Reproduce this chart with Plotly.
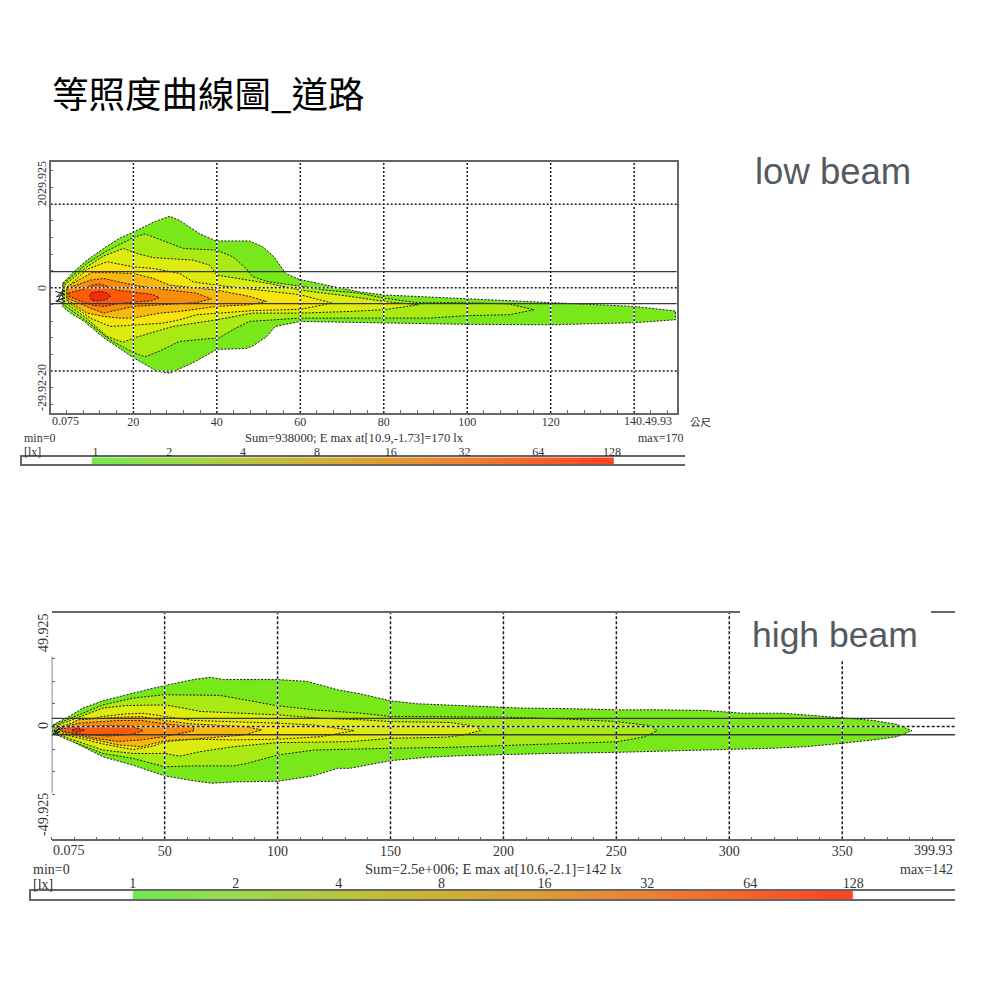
# isolux contour charts, low beam and high beam
import plotly.graph_objects as go

TITLE = "等照度曲線圖_道路"

level_colors = ["#78e81a", "#a8ea12", "#dcec10", "#f6e40c", "#f8b80e", "#fa8c0a", "#ff5a08", "#f42c08"]

legend_levels = ["1", "2", "4", "8", "16", "32", "64", "128"]
legend_pos = [0, 1, 2, 3, 4, 5, 6, 7]
legend_z = [0, 1, 2, 3, 4, 5, 6, 7]
legend_colors = ["#74e84c", "#98dc48", "#b8c63c", "#cfb034", "#e09a30", "#ee8030", "#f86028", "#ff4422"]
low_legend_edges = [-0.05, 0.5, 1.5, 2.5, 3.5, 4.5, 5.5, 6.5, 7.03]
high_legend_edges = [0, 0.5, 1.5, 2.5, 3.5, 4.5, 5.5, 6.5, 7]

# low beam contours, clockwise from the left tip (metres)
low_1_x = [3, 5.7, 8.9, 12.9, 16.8, 20, 24.8, 28.7, 31.1, 35.9, 39.8, 47.8, 51, 53.7, 56.5, 59.7, 64.4, 68.4, 74, 80, 100, 120, 140, 149.9, 149.9, 140, 128, 120, 100, 80, 74, 60, 54, 52, 48.6, 47, 40, 34.3, 28.7, 25.6, 20, 12.9, 8.1, 4.9, 3]
low_1_y = [1, 3.8, 6.6, 9.4, 11.9, 13.3, 15.7, 17.1, 16.1, 12.9, 11.2, 11.2, 9.8, 7.4, 3.4, 2, 1, 0.1, -1, -1.75, -2.7, -3.7, -4.5, -5.6, -7.7, -8.4, -8.7, -8.9, -8.8, -8.5, -8.3, -8.1, -9.3, -11.7, -14, -14.6, -14.8, -18, -20.5, -20, -16.8, -12, -8, -6.1, -4.5]
low_2_x = [3.3, 8.9, 13.7, 20, 22.8, 27, 32, 40, 43.8, 47, 48.6, 52.5, 60, 66, 74, 80, 88, 100, 110, 116, 110, 100, 91, 74, 60, 47.8, 44.6, 40.6, 31, 26.3, 22.8, 20, 14.4, 8.9, 3.3]
low_2_y = [1, 5.8, 8.8, 12, 12.9, 11.3, 9.4, 9, 7.4, 4.6, 2.6, 1.4, 0.4, -0.6, -1.3, -2.5, -3.6, -3.6, -3.9, -5.3, -6.5, -6.7, -7.3, -7.3, -7.3, -8.1, -9.7, -12, -12.9, -15.2, -16.6, -15.6, -12.5, -8.1, -4.1]
low_3_x = [3.5, 8.9, 12.9, 17.6, 20.8, 24.8, 34.3, 38.3, 40, 44.6, 52.5, 60, 72, 80, 88.3, 80, 72, 60, 48.6, 40, 34.3, 29.5, 20, 17.6, 13.7, 8.9, 3.5]
low_3_y = [0.6, 5, 7.6, 9.4, 8.2, 7.2, 6.6, 5.4, 3, 2.2, 1, -0.6, -2.1, -3.3, -4.1, -5.3, -5.7, -6.1, -6.1, -7.7, -8.5, -9.3, -12.1, -13.1, -11.7, -7.4, -3.5]
low_4_x = [4.1, 8.9, 13.7, 20, 24.8, 31.1, 34.3, 40, 60, 67.6, 60, 48.6, 40.6, 35, 31.1, 27.1, 20, 14.4, 9.7, 4.1]
low_4_y = [0, 4.4, 6.2, 5, 4.6, 3.4, 1.4, 0.6, -1.7, -3.7, -5.2, -5.5, -6.1, -6.5, -7.7, -8.5, -9, -9.3, -7.3, -3.3]
low_5_x = [4.1, 10, 14.4, 20, 24.8, 28.7, 40, 47.8, 51.9, 47.8, 40, 31.1, 26.3, 20, 16.8, 12.9, 8.9, 4.1]
low_5_y = [0.2, 3.6, 3.6, 3.4, 2.2, 0.6, -0.6, -2.1, -3.3, -4.1, -4.5, -5.7, -6.1, -7.3, -7.3, -6.9, -6.1, -2.9]
low_6_x = [4.1, 9.7, 12.9, 16.8, 20, 28.7, 35.1, 38.7, 35.1, 20, 16, 12.9, 9.7, 4.1]
low_6_y = [-0.2, 1.8, 2.2, 1.4, 0.6, -0.6, -1.3, -2.7, -3.6, -4.5, -5.3, -6.1, -4.9, -2.5]
low_7_x = [4.5, 8, 10, 12, 14, 16, 20, 24.5, 26.2, 24.5, 20, 16, 13, 10.5, 8, 4.5]
low_7_y = [-1.3, -0.4, 0.6, 0.9, 0.2, -0.6, -1.1, -1.6, -2.4, -3.1, -3.5, -3.9, -4.5, -4.3, -3.5, -2]
low_8_x = [9.5, 10, 12, 13.5, 14.6, 13.5, 11.5, 10, 9.5]
low_8_y = [-2, -1.2, -0.9, -1.2, -2, -2.9, -3.2, -3, -2]
low_source_x = [1.3, 3.4, 1.6, 3.2, 2, 3.6, 1.4, 3.2]
low_source_y = [-0.9, -1.6, -2.2, -0.6, -3, -2.4, -3.2, -3.6]

# high beam contours
high_1_x = [0.4, 6.4, 13.8, 22.7, 36, 50, 62.8, 70.2, 76, 100, 113, 126.6, 137, 150, 161.6, 180.9, 200, 207.6, 229.8, 250.6, 270.3, 289.6, 305.9, 323.7, 337, 350, 363.8, 374.2, 380.9, 374.2, 363.8, 350, 334, 319.3, 300, 280.7, 259.9, 250.6, 220.9, 200, 180.9, 166, 150, 131.9, 126.6, 116, 100, 80.6, 70.9, 62.8, 50, 36, 22.7, 13.8, 6.4, 0.4]
high_1_y = [0.7, 3.7, 8.2, 11.4, 14.8, 18.2, 20.8, 21.8, 20.8, 20.8, 20, 16.3, 14.4, 11.4, 10.1, 9.2, 8.6, 8.2, 7.9, 7.4, 7.4, 7.1, 5.9, 5.9, 4.9, 3.7, 2.7, 1, -1.8, -4.5, -5.9, -7.4, -8.9, -9.6, -10.1, -10.8, -11.1, -11.4, -11.9, -12.3, -12.9, -13.6, -15.1, -18.5, -18.5, -21.8, -24.2, -24.5, -25.1, -24, -21.8, -17.1, -13.4, -8.9, -5.2, -3]
high_2_x = [1.2, 22.7, 36, 50, 74.6, 89.5, 100, 116.2, 137, 150, 176.4, 200, 228.3, 250.6, 265.4, 268, 262.5, 250.6, 220.9, 200, 176.4, 150, 137, 116, 100, 86.5, 80.6, 62.8, 50, 36, 22.7, 6.4, 1.2]
high_2_y = [0.7, 9.6, 12.6, 14.1, 13.8, 11.1, 9.2, 7.4, 5.9, 4.5, 4.2, 4.2, 3.3, 2.2, 0.3, -1.9, -4.5, -6.7, -7.7, -8.5, -9.2, -9.6, -9.9, -10.4, -12.6, -16.3, -17.4, -17.4, -17.8, -14.1, -11.9, -5.6, -3]
high_3_x = [1.9, 22.7, 33.1, 50, 58.3, 65.7, 100, 118.4, 137, 150, 176.4, 188.3, 189.8, 182.3, 174.9, 150, 131.9, 100, 80.6, 65.7, 56.8, 50, 36, 22.7, 6.4, 1.9]
high_3_y = [0.3, 8.2, 9.3, 9.6, 8.2, 6.7, 5.2, 3.7, 3, 2.2, 1.8, 0, -1.8, -3.7, -4.7, -5.2, -6.7, -7.1, -8.9, -11.1, -13.1, -11.9, -11.9, -10.4, -4.8, -2.8]
high_4_x = [3.4, 22.7, 33, 40.5, 50, 62.8, 100, 116, 134, 119, 100, 80.6, 62.8, 50, 45, 36, 22.7, 6.4, 3.4]
high_4_y = [0, 4.5, 5.6, 5.9, 4.5, 2.7, 1.5, 0.7, -1.8, -4.5, -5.6, -5.9, -5.6, -6.7, -8.6, -10.2, -7.7, -3.7, -2.6]
high_5_x = [4.9, 11.8, 29.4, 39.8, 50, 61.8, 85.4, 93, 85.4, 62.6, 50, 39.8, 29.4, 19.2, 6, 4.9]
high_5_y = [-0.3, 3, 4.1, 4.4, 2.7, 1.2, 0, -1.5, -3.7, -5.6, -6.2, -8.9, -8.1, -5.9, -3, -2.4]
high_6_x = [4.5, 11.8, 29.4, 39.8, 50, 62.6, 63, 50, 39.8, 29.4, 19.2, 6, 4.5]
high_6_y = [-0.5, 1.5, 2.7, 2.7, 1.2, 0, -1.8, -4.4, -5.9, -6.6, -5.2, -2.2, -2]
high_7_x = [4, 9, 15, 25, 35, 40.5, 35, 25, 15, 9, 4]
high_7_y = [-1, -0.3, 0.2, 0.5, 0.4, -1.8, -3.5, -4.2, -3.6, -2.8, -2]
high_8_x = [9, 11, 14.7, 11, 9]
high_8_y = [-1.6, -0.7, -1.6, -2.5, -1.6]
high_source_x = [0.8, 3.5, 1, 4, 1.5, 3.8, 0.8]
high_source_y = [0.6, -1, -2.4, -0.2, -3, -2, -3.6]

low_contours = [(low_1_x, low_1_y), (low_2_x, low_2_y), (low_3_x, low_3_y), (low_4_x, low_4_y),
                (low_5_x, low_5_y), (low_6_x, low_6_y), (low_7_x, low_7_y), (low_8_x, low_8_y)]
high_contours = [(high_1_x, high_1_y), (high_2_x, high_2_y), (high_3_x, high_3_y), (high_4_x, high_4_y),
                 (high_5_x, high_5_y), (high_6_x, high_6_y), (high_7_x, high_7_y), (high_8_x, high_8_y)]

low_xgrid = [20, 40, 60, 80, 100, 120, 140]
low_ygrid = [20, 0, -20]
low_band = [3.83, -3.83]
high_xgrid = [50, 100, 150, 200, 250, 300, 350]
high_ygrid = [0]
high_band = [3.63, -3.63]

AXIS = "#666666"
INK = "#1c1c1c"
TEXT = "#333333"
SERIF = "Liberation Serif"

fig = go.Figure()


def dom(a, b):
    return [a / 1000, b / 1000]


def vdom(top, bottom):
    return [1 - bottom / 1000, 1 - top / 1000]


def add_contours(contours, xa, ya, dash):
    for (xs, ys), color in zip(contours, level_colors):
        fig.add_trace(go.Scatter(
            x=xs + xs[:1], y=ys + ys[:1], xaxis=xa, yaxis=ya, mode="lines",
            fill="toself", fillcolor=color,
            line=dict(color=INK, width=1, dash=dash),
            hoverinfo="skip", showlegend=False,
        ))


def add_grid(xa, ya, xvals, yvals, band, dash):
    ax, ay = (xa, ya)
    for v in xvals:
        fig.add_shape(type="line", xref=ax, yref=ay + " domain", x0=v, x1=v, y0=0, y1=1,
                      line=dict(color="white", width=1.5), layer="above")
        fig.add_shape(type="line", xref=ax, yref=ay + " domain", x0=v, x1=v, y0=0, y1=1,
                      line=dict(color=INK, width=1.5, dash=dash), layer="above")
    for v in yvals:
        fig.add_shape(type="line", xref=ax + " domain", yref=ay, x0=0, x1=1, y0=v, y1=v,
                      line=dict(color="white", width=1.5), layer="above")
        fig.add_shape(type="line", xref=ax + " domain", yref=ay, x0=0, x1=1, y0=v, y1=v,
                      line=dict(color=INK, width=1.5, dash=dash), layer="above")
    for v in band:
        fig.add_shape(type="line", xref=ax + " domain", yref=ay, x0=0, x1=1, y0=v, y1=v,
                      line=dict(color="#3a3a3a", width=1.4), layer="above")


def add_legend(xa, ya, edges):
    fig.add_trace(go.Heatmap(
        x=edges, y=[0, 1], z=[legend_z, legend_z], xaxis=xa, yaxis=ya, zsmooth="best",
        zmin=0, zmax=7,
        colorscale=[[i / 7, c] for i, c in enumerate(legend_colors)],
        showscale=False, hoverinfo="skip",
    ))


def label(text, px, py, size=12, color=TEXT, family=SERIF, anchor="center", angle=0):
    fig.add_annotation(text=text, x=px / 1000, y=1 - py / 1000, xref="paper", yref="paper",
                       showarrow=False, xanchor=anchor, yanchor="middle", textangle=angle,
                       font=dict(size=size, color=color, family=family))


add_contours(low_contours, "x", "y", "2px,1.5px")
add_contours(high_contours, "x2", "y2", "2px,1.5px")
fig.add_trace(go.Scatter(x=low_source_x, y=low_source_y, xaxis="x", yaxis="y", mode="lines",
                         line=dict(color=INK, width=1), hoverinfo="skip", showlegend=False))
fig.add_trace(go.Scatter(x=high_source_x, y=high_source_y, xaxis="x2", yaxis="y2", mode="lines",
                         line=dict(color=INK, width=1), hoverinfo="skip", showlegend=False))
add_legend("x3", "y3", low_legend_edges)
add_legend("x4", "y4", high_legend_edges)

add_grid("x", "y", low_xgrid, low_ygrid, low_band, "2px,2px")
add_grid("x2", "y2", high_xgrid, high_ygrid, high_band, "3px,2px")

# high beam y axis only runs between its rotated labels
fig.add_shape(type="line", xref="x2", yref="y2", x0=0, x1=0, y0=-29.4, y1=31,
              line=dict(color=AXIS, width=1.5), layer="above")
# text box of the "high beam" caption hides the frame behind it
fig.add_shape(type="rect", xref="paper", yref="paper", x0=0.74, x1=0.931, y0=1 - 0.661, y1=1 - 0.608,
              fillcolor="white", line=dict(width=0), layer="above")

fig.update_layout(
    width=1000, height=1000, margin=dict(l=0, r=0, t=0, b=0),
    paper_bgcolor="white", plot_bgcolor="white", showlegend=False,
    xaxis=dict(domain=dom(50.7, 676.7), range=[0.19, 150.2], anchor="y",
               tickvals=low_xgrid[:-1], showgrid=False, zeroline=False, showline=True, mirror=True,
               linecolor=AXIS, linewidth=1.5, ticks="", ticklen=3, tickcolor=AXIS, ticklabelstandoff=-3,
               minor=dict(dtick=4, tick0=0, ticks="inside", ticklen=3, tickcolor=AXIS, showgrid=False),
               tickfont=dict(size=12, family=SERIF, color=TEXT)),
    yaxis=dict(domain=vdom(162.3, 413), range=[-30.05, 30.05], anchor="x",
               showticklabels=False, showgrid=False, zeroline=False, showline=True, mirror=True,
               linecolor=AXIS, linewidth=1.5, tickvals=[-28, -24, -16, -12, -8, -4, 4, 8, 12, 16, 24, 28],
               ticks="inside", ticklen=3, tickcolor=AXIS),
    xaxis2=dict(domain=dom(51.7, 955), range=[0, 399.93], anchor="y2",
                tickvals=high_xgrid, showgrid=False, zeroline=False, showline=True, mirror=True,
                linecolor=AXIS, linewidth=1.5, ticks="", tickcolor=AXIS, ticklabelstandoff=-2,
                minor=dict(dtick=10, tick0=0, ticks="inside", ticklen=3, tickcolor=AXIS, showgrid=False),
                tickfont=dict(size=14, family=SERIF, color=TEXT)),
    yaxis2=dict(domain=vdom(612.7, 839.3), range=[-49.9, 50.4], anchor="x2",
                showticklabels=False, showgrid=False, zeroline=False, showline=False,
                tickvals=[-30, -20, -10, 10, 20, 30], ticks="inside", ticklen=3, tickcolor=AXIS),
    xaxis3=dict(domain=dom(22, 685), range=[-0.996, 7.988], anchor="y3", side="top",
                tickvals=legend_pos, ticktext=legend_levels, showgrid=False, zeroline=False,
                showline=True, mirror=True, linecolor=AXIS, linewidth=1.5, ticks="", ticklabelstandoff=-5,
                tickfont=dict(size=12, family=SERIF, color=TEXT)),
    yaxis3=dict(domain=vdom(457.3, 464.3), range=[0, 1], anchor="x3", showticklabels=False,
                showgrid=False, zeroline=False, showline=True, linecolor=AXIS, linewidth=1.5, ticks=""),
    xaxis4=dict(domain=dom(31, 955), range=[-0.99, 7.99], anchor="y4", side="top",
                tickvals=legend_pos, ticktext=legend_levels, showgrid=False, zeroline=False,
                showline=True, mirror=True, linecolor=AXIS, linewidth=1.5, ticks="", ticklabelstandoff=-5,
                tickfont=dict(size=14, family=SERIF, color=TEXT)),
    yaxis4=dict(domain=vdom(890.7, 899.3), range=[0, 1], anchor="x4", showticklabels=False,
                showgrid=False, zeroline=False, showline=True, linecolor=AXIS, linewidth=1.5, ticks=""),
)

label(TITLE, 50, 93, size=36.5, color="#000000", family="Noto Sans CJK TC", anchor="left")
label("low beam", 753, 172, size=36.5, color="#555a60", family="Liberation Sans", anchor="left")
label("high beam", 750, 635, size=35.5, color="#555a60", family="Liberation Sans", anchor="left")

# low beam texts
label("2029.925", 42, 184, size=12, angle=-90)
label("0", 42, 288, size=12, angle=-90)
label("-29.92-20", 42, 388, size=12, angle=-90)
label("0.075", 50, 421, anchor="left")
label("140.49.93", 622, 421, anchor="left")
label("公尺", 688, 421, size=10.5, family="Noto Sans CJK TC", anchor="left")
label("min=0", 22, 438, anchor="left")
label("Sum=938000; E max at[10.9,-1.73]=170 lx", 243, 438, size=12.6, anchor="left")
label("max=170", 685, 438, anchor="right")
label("[lx]", 22, 452, anchor="left")

# high beam texts
label("49.925", 43, 633, size=14, angle=-90)
label("0", 43, 726, size=14, angle=-90)
label("-49.925", 43, 815, size=14, angle=-90)
label("0.075", 51, 850, size=14, anchor="left")
label("399.93", 955, 850, size=14, anchor="right")
label("min=0", 31, 869, size=14, anchor="left")
label("Sum=2.5e+006; E max at[10.6,-2.1]=142 lx", 363, 869, size=14.6, anchor="left")
label("max=142", 955, 869, size=14, anchor="right")
label("[lx]", 31, 884, size=14, anchor="left")

fig.write_html("out.html", config={"displayModeBar": False},
               post_script="document.body.style.margin='0'")
